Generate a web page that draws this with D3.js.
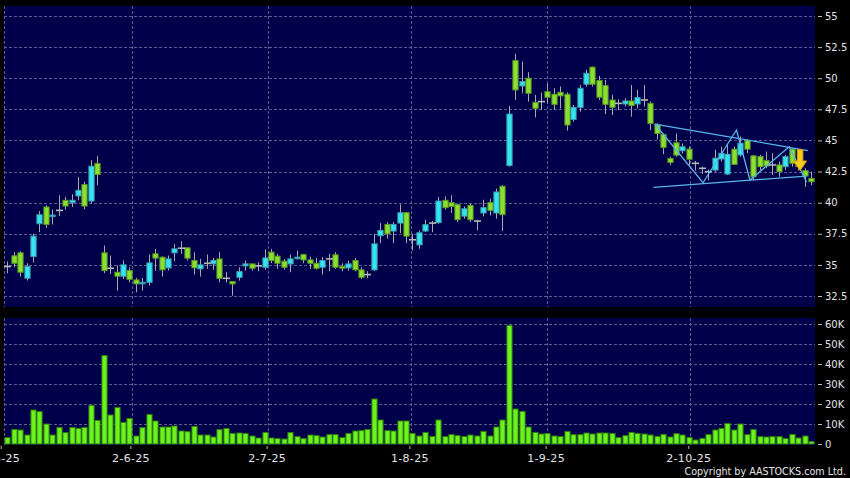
<!DOCTYPE html>
<html>
<head>
<meta charset="utf-8">
<script src="https://cdn.jsdelivr.net/npm/d3@7"></script>
<style>
  html, body { margin: 0; padding: 0; background: #000; }
  svg { display: block; }
  text { font-family: "DejaVu Sans", Verdana, sans-serif; }
</style>
</head>
<body>
<svg id="chart" width="850" height="478"></svg>
<script>
// ---------------- DATA ----------------
const opens = [34.87,35.73,35.97,33.93,35.67,38.31,39.65,38.90,39.38,40.19,40.00,40.54,41.45,40.13,43.15,
  35.97,34.73,34.41,34.09,34.54,33.79,33.50,33.60,35.89,35.62,34.76,35.97,36.34,36.37,35.35,34.68,35.13,35.08,35.48,33.92,33.66,34.00,34.92,35.08,34.92,
  34.81,36.02,35.70,35.30,35.08,35.56,35.83,35.40,35.13,34.81,35.48,35.81,34.87,34.76,35.35,34.60,34.22,34.60,37.34,38.25,37.72,38.36,39.19,37.02,36.61,
  37.72,38.36,38.39,40.19,40.00,39.84,38.92,39.78,38.52,39.17,40.00,39.17,41.32,42.98,51.42,49.38,50.00,48.06,48.12,48.92,48.71,48.87,48.71,46.69,47.66,
  49.52,50.89,49.81,49.41,48.25,47.98,47.93,48.17,47.93,48.25,47.98,46.24,45.48,43.55,44.81,44.17,44.30,43.16,42.76,42.49,42.62,43.51,42.30,44.30,43.84,
  45.00,43.76,43.70,43.38,43.03,43.03,42.89,44.30,43.30,42.57,41.95];
const highs = [35.27,36.02,36.10,35.13,37.50,39.33,39.78,39.44,40.59,40.46,40.67,42.07,41.67,43.41,43.74,
  36.56,35.75,34.95,35.35,34.81,33.95,33.95,35.83,36.29,35.67,35.75,36.69,36.91,36.42,36.02,35.48,35.83,35.56,36.02,34.41,33.66,34.81,35.35,35.08,35.22,
  36.24,36.29,35.89,35.48,35.83,36.16,35.89,35.67,35.56,35.62,35.89,36.02,35.13,35.35,35.56,34.81,34.49,37.50,38.36,38.44,38.44,39.87,39.25,37.50,37.77,
  38.63,38.52,40.46,40.51,40.59,39.92,39.70,39.92,38.63,40.24,40.32,41.13,41.40,47.77,51.96,51.34,50.48,48.66,48.84,49.54,49.19,49.33,48.87,47.85,49.46,
  50.67,50.94,50.19,49.87,48.66,48.31,48.39,49.46,49.06,49.46,48.12,46.37,45.56,43.68,45.56,44.76,44.51,43.35,42.89,42.68,44.24,44.51,44.65,44.51,45.32,
  45.11,43.84,43.84,44.11,43.97,43.30,43.84,44.38,43.60,42.76,42.49];
const lows = [34.33,34.81,34.06,33.74,35.20,37.63,37.98,38.25,38.92,39.44,39.65,40.19,39.46,39.92,41.40,
  34.33,34.27,32.93,33.87,33.60,32.80,32.93,33.33,34.54,34.06,34.54,35.30,35.89,35.35,34.22,34.06,34.68,34.60,33.60,33.60,32.53,33.74,34.54,34.54,34.49,
  34.60,35.13,34.68,34.62,34.41,35.43,35.13,34.68,34.62,34.22,34.49,34.68,34.49,34.54,34.49,33.87,33.93,34.49,36.75,37.10,36.75,37.55,36.75,36.16,36.29,
  37.63,37.63,38.31,39.44,39.17,38.44,38.71,38.44,37.77,38.90,38.98,38.71,37.72,42.90,48.25,48.79,48.12,46.85,47.45,47.98,47.45,47.58,45.78,46.51,47.31,
  49.33,49.33,48.25,47.12,47.04,47.45,47.72,46.91,47.58,47.72,45.83,45.08,43.90,43.01,43.68,43.95,43.03,42.57,42.30,41.81,42.49,43.30,42.22,43.03,43.70,
  43.97,41.81,42.62,42.76,42.22,42.08,42.62,42.89,42.60,41.27,41.41];
const closes = [34.87,35.13,34.41,34.87,37.31,39.03,38.25,39.00,39.38,39.73,40.19,40.99,39.73,42.93,42.26,
  34.54,34.73,34.09,35.00,33.84,33.47,33.60,35.16,35.54,34.60,35.48,36.29,36.34,35.54,34.76,35.00,35.13,35.35,33.92,33.92,33.47,34.46,35.08,34.73,34.92,
  35.56,35.35,35.13,34.81,35.48,35.62,35.40,35.13,34.73,35.35,35.48,34.81,34.73,35.08,34.60,34.00,34.22,36.69,37.77,37.50,38.25,39.19,37.31,37.02,37.58,
  38.23,38.36,40.13,39.60,39.70,38.63,39.51,38.63,38.52,39.60,39.38,40.86,39.03,47.12,49.06,49.73,48.79,47.58,48.12,48.47,47.90,48.58,46.24,47.66,49.19,
  50.40,49.52,48.47,47.90,47.66,47.98,48.17,47.80,48.44,48.25,46.37,45.56,44.44,43.23,43.82,44.49,43.49,43.16,42.76,42.49,43.57,43.97,43.89,43.08,44.78,
  44.30,42.08,42.89,42.95,43.03,42.49,43.70,43.16,42.90,42.14,41.68];
const volumes = [3200,7300,7000,4500,17000,16200,10000,4500,8300,5700,8300,7800,8300,19300,11800,
  44200,14500,18300,10800,12800,4000,8200,14800,11500,8500,8500,9000,6500,6200,8800,4500,4500,3500,7200,7800,5300,5500,5300,4000,3000,
  5800,3000,2700,2500,5700,3700,2700,4500,4200,3500,4700,4700,3200,5300,6500,6700,7300,22500,12000,6700,6500,11500,11500,5300,4000,
  5800,3800,12000,3700,4700,4200,3700,4500,4000,6300,4000,8500,12000,59300,17500,16300,8500,5800,5000,5300,4000,3700,6300,4700,4700,
  5500,5000,5500,5500,5300,3200,4200,5800,5300,5000,4500,3800,4800,3500,5200,4500,3300,2000,2800,4700,7000,7800,10300,7000,10000,
  4700,7300,3700,3500,3700,3700,2700,4800,3000,4000,1200];

// x-axis: trading-day index of first session of each month, with its label
const tickIndex = [-1, 19, 40, 62, 83, 105];
const tickLabels = ["2-5-25", "2-6-25", "2-7-25", "1-8-25", "1-9-25", "2-10-25"];
const priceTicks = [32.5, 35, 37.5, 40, 42.5, 45, 47.5, 50, 52.5, 55];
const priceTickLabels = ["32.5", "35", "37.5", "40", "42.5", "45", "47.5", "50", "52.5", "55"];
const volTicks = [0, 10000, 20000, 30000, 40000, 50000, 60000];
const volTickLabels = ["0", "10K", "20K", "30K", "40K", "50K", "60K"];

// drawn pattern annotation (index, price)
const upperLine = [[100.7, 46.32], [124.5, 44.19]];
const lowerLine = [[100.5, 41.23], [124.3, 42.14]];
const zigzag = [[100.7, 46.32], [108.2, 41.60], [113.4, 45.84], [115.5, 41.82], [121.6, 44.50], [124.3, 41.66]];
const arrowPoint = { index: 123.3, top: 44.27, neck: 43.35, tip: 42.58 };

// ---------------- LAYOUT ----------------
const W = 850, H = 478;
const panelL = 4, panelR = 815;
const priceTop = 6, priceBot = 307;
const volTop = 318, volBot = 445;
const N = opens.length;

const svg = d3.select("#chart");
svg.append("rect").attr("width", W).attr("height", H).attr("fill", "#000");

const x = d3.scaleLinear().domain([0, N - 1]).range([7.3, 7.3 + 6.43 * (N - 1)]);
// month ticks sit on a slightly wider calendar grid than the bar slots
const xTick = d3.scaleLinear().domain([-1, 105]).range([0.7, 688.3]);
const yP = d3.scaleLinear().domain([32.5, 55]).range([296, 16]);
const yV = d3.scaleLinear().domain([0, 60000]).range([444, 324]);

const panelFill = "#00004a";
const gridColor = "#5c5c8e";

// panels
svg.append("rect").attr("x", panelL).attr("y", priceTop).attr("width", panelR - panelL).attr("height", priceBot - priceTop).attr("fill", panelFill);
svg.append("rect").attr("x", panelL).attr("y", volTop).attr("width", panelR - panelL).attr("height", volBot - volTop).attr("fill", panelFill);

// grid
const grid = svg.append("g").attr("stroke", gridColor).attr("stroke-width", 1).attr("stroke-dasharray", "3,2").attr("shape-rendering", "crispEdges");
grid.selectAll(".hp").data(priceTicks).join("line")
  .attr("x1", panelL).attr("x2", panelR).attr("y1", d => Math.round(yP(d)) + 0.5).attr("y2", d => Math.round(yP(d)) + 0.5);
grid.selectAll(".hv").data(volTicks.slice(1)).join("line")
  .attr("x1", panelL).attr("x2", panelR).attr("y1", d => Math.round(yV(d)) + 0.5).attr("y2", d => Math.round(yV(d)) + 0.5);
tickIndex.forEach(t => {
  const gx = Math.max(panelL + 0.5, Math.round(xTick(t) + 1.5) + 0.5);
  grid.append("line").attr("x1", gx).attr("x2", gx).attr("y1", priceTop).attr("y2", priceBot);
  grid.append("line").attr("x1", gx).attr("x2", gx).attr("y1", volTop).attr("y2", volBot);
});

// clip for panels
const defs = svg.append("defs");
defs.append("clipPath").attr("id", "clipP").append("rect")
  .attr("x", panelL).attr("y", priceTop).attr("width", panelR - panelL).attr("height", priceBot - priceTop);

// ---------------- CANDLES ----------------
const candles = d3.range(N).map(i => ({ i, o: opens[i], h: highs[i], l: lows[i], c: closes[i] }));
const cg = svg.append("g").attr("clip-path", "url(#clipP)");
const bodyW = 5.2;
const upFill = "#33e4f2", upStroke = "#3f9fb2";
const dnFill = "#8ae030", dnStroke = "#5a9a22";
const dojiColor = "#b8b8b8";

cg.selectAll(".wick").data(candles).join("line")
  .attr("x1", d => Math.round(x(d.i)) + 0.5).attr("x2", d => Math.round(x(d.i)) + 0.5)
  .attr("y1", d => yP(d.h)).attr("y2", d => yP(d.l))
  .attr("stroke", "#a8a8a8").attr("stroke-width", 1);

cg.selectAll(".body").data(candles.filter(d => d.o !== d.c)).join("rect")
  .attr("x", d => Math.round(x(d.i)) + 0.5 - bodyW / 2)
  .attr("y", d => yP(Math.max(d.o, d.c)))
  .attr("width", bodyW)
  .attr("height", d => Math.max(1.5, yP(Math.min(d.o, d.c)) - yP(Math.max(d.o, d.c))))
  .attr("fill", d => d.c > d.o ? upFill : dnFill)
  .attr("stroke", d => d.c > d.o ? upStroke : dnStroke)
  .attr("stroke-width", 1);

cg.selectAll(".doji").data(candles.filter(d => d.o === d.c)).join("line")
  .attr("x1", d => Math.round(x(d.i)) + 0.5 - 3.5).attr("x2", d => Math.round(x(d.i)) + 0.5 + 3.5)
  .attr("y1", d => yP(d.o)).attr("y2", d => yP(d.o))
  .attr("stroke", dojiColor).attr("stroke-width", 1.6);

// ---------------- ANNOTATION ----------------
const lineGen = d3.line().x(d => x(d[0])).y(d => yP(d[1]));
const ag = svg.append("g").attr("clip-path", "url(#clipP)").attr("fill", "none").attr("stroke", "#5ab4ea").attr("stroke-width", 1.3);
[upperLine, lowerLine, zigzag].forEach(pts => ag.append("path").attr("d", lineGen(pts)));

const ax = x(arrowPoint.index);
const aTop = yP(arrowPoint.top), aNeck = yP(arrowPoint.neck), aTip = yP(arrowPoint.tip);
const sw = 2.8, hw = 6.5;
svg.append("path")
  .attr("d", `M${ax - sw},${aTop} L${ax + sw},${aTop} L${ax + sw},${aNeck} L${ax + hw},${aNeck} L${ax},${aTip} L${ax - hw},${aNeck} L${ax - sw},${aNeck} Z`)
  .attr("fill", "#f7cc1c").attr("stroke", "#d99a00").attr("stroke-width", 1);

// ---------------- VOLUME ----------------
const volW = 5.2;
svg.append("g").selectAll("rect").data(volumes.map((v, i) => ({ i, v }))).join("rect")
  .attr("x", d => Math.round(x(d.i)) + 0.5 - volW / 2)
  .attr("y", d => yV(d.v))
  .attr("width", volW)
  .attr("height", d => yV(0) - yV(d.v))
  .attr("fill", "#6cf31e").attr("stroke", "#2f7d0e").attr("stroke-width", 1);

// ---------------- AXES ----------------
const textColor = "#e4e4e4";
const rightAxisP = d3.axisRight(yP).tickValues(priceTicks).tickFormat((d, k) => priceTickLabels[k]).tickSize(4).tickPadding(3);
const gP = svg.append("g").attr("transform", `translate(${panelR + 3},0)`).call(rightAxisP);
const rightAxisV = d3.axisRight(yV).tickValues(volTicks).tickFormat((d, k) => volTickLabels[k]).tickSize(4).tickPadding(3);
const gV = svg.append("g").attr("transform", `translate(${panelR + 3},0)`).call(rightAxisV);
[gP, gV].forEach(g => {
  g.select(".domain").remove();
  g.selectAll(".tick line").attr("stroke", "#bbbbbb");
  g.selectAll(".tick text").attr("fill", textColor).attr("font-size", 10).attr("font-family", "DejaVu Sans, sans-serif");
});

const bottomAxis = d3.axisBottom(xTick).tickValues(tickIndex).tickFormat((d, k) => tickLabels[k]).tickSize(3).tickPadding(5);
const gX = svg.append("g").attr("transform", `translate(0,${volBot + 1})`).call(bottomAxis);
gX.select(".domain").remove();
gX.selectAll(".tick line").attr("stroke", "#bbbbbb");
gX.selectAll(".tick text").attr("fill", textColor).attr("font-size", 11).attr("letter-spacing", "0.3px").attr("font-family", "DejaVu Sans, sans-serif");

svg.append("text").attr("x", 846).attr("y", 475).attr("text-anchor", "end")
  .attr("fill", textColor).attr("font-size", 9.6).text("Copyright by AASTOCKS.com Ltd.");
</script>
</body>
</html>
